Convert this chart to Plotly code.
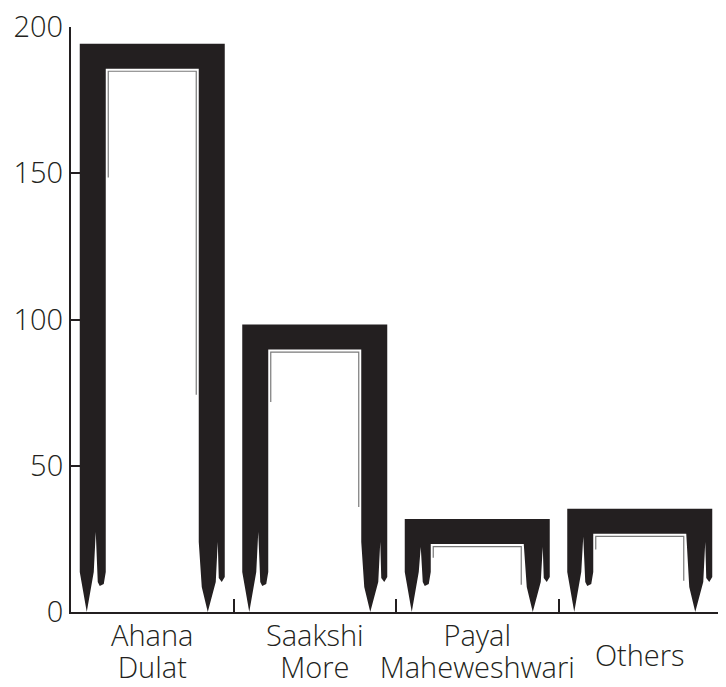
import plotly.graph_objects as go

# ---------------- data ----------------
categories = ["Ahana Dulat", "Saakshi More", "Payal Maheweshwari", "Others"]
label_line1 = ["Ahana", "Saakshi", "Payal"]
label_line2 = ["Dulat", "More", "Maheweshwari"]
single_labels = ["Others"]
values = [190, 94, 27.5, 31]
y_ticks = [0, 50, 100, 150, 200]

# ---------------- style ----------------
INK = "#231f20"
FONT = "Open Sans"
PAGE_OFFSET = 8          # default body margin of the html page
FIG_W, FIG_H = 726 - PAGE_OFFSET, 687 - PAGE_OFFSET
M_L, M_R, M_T, M_B = 71 - PAGE_OFFSET, 5, 27 - PAGE_OFFSET, 74.5
X_RANGE = [-0.5, len(categories) - 0.5]
Y_RANGE = [0, 200]
PX_X = (FIG_W - M_L - M_R) / (X_RANGE[1] - X_RANGE[0])
PX_Y = (FIG_H - M_T - M_B) / (Y_RANGE[1] - Y_RANGE[0])

BAR_W = 145   # outer bar width (px)
SW = 26       # leg stroke width (px)
TW = 25       # top stroke thickness (px)


def to_data(i, off, h):
    return i + (off - BAR_W / 2) / PX_X, h / PX_Y


def bar_outline(i, v):
    top = v * PX_Y + TW / 2
    inner = top - TW
    lim = inner - 3
    c = lambda h: min(h, lim)
    pts = [
        (7, 0), (0, c(40)), (0, top), (BAR_W, top),
        (BAR_W, c(35)), (BAR_W - 3, 30), (BAR_W - 6, c(34)), (BAR_W - 7, c(70)),
        (BAR_W - 9, c(30)), (BAR_W - 17, 0), (BAR_W - 23, c(25)), (BAR_W - SW, c(70)),
        (BAR_W - SW, inner), (SW, inner), (SW, c(40)), (SW - 2, 28),
        (SW - 6, 26), (SW - 8, c(30)), (SW - 10, c(80)), (SW - 12, c(40)), (7, 0),
    ]
    xs, ys = zip(*[to_data(i, a, b) for a, b in pts])
    return list(xs), list(ys)


def bar_highlight(i, v):
    top = v * PX_Y + TW / 2
    inner = top - TW
    pts = [(SW + 2.5, inner * 0.8), (SW + 2.5, inner - 2.5), (BAR_W - SW - 2.5, inner - 2.5),
           (BAR_W - SW - 2.5, inner * 0.4)]
    xs, ys = zip(*[to_data(i, a, b) for a, b in pts])
    return list(xs), list(ys)


fig = go.Figure()
for i, v in enumerate(values):
    xs, ys = bar_outline(i, v)
    fig.add_trace(go.Scatter(x=xs, y=ys, mode="lines", fill="toself", fillcolor=INK,
                             line=dict(width=0, color=INK), hoverinfo="skip",
                             showlegend=False))
    hx, hy = bar_highlight(i, v)
    fig.add_trace(go.Scatter(x=hx, y=hy, mode="lines", line=dict(width=1.2, color="#7a7a7a"),
                             hoverinfo="skip", showlegend=False))

# invisible anchors for label axes
for ax in ["x2", "x3", "x4"]:
    fig.add_trace(go.Scatter(x=list(range(len(categories))), y=values, xaxis=ax, mode="markers",
                             marker=dict(opacity=0), hoverinfo="skip", showlegend=False))

tickfont = dict(family=FONT, size=29, color=INK, weight=300)
label_axis = dict(overlaying="x", anchor="y", side="bottom", range=X_RANGE, showline=False,
                  showgrid=False, zeroline=False, ticks="", tickfont=tickfont, fixedrange=True,
                  automargin=False, ticklabeloverflow="allow")

fig.update_layout(
    width=FIG_W, height=FIG_H,
    margin=dict(l=M_L, r=M_R, t=M_T, b=M_B, autoexpand=False),
    paper_bgcolor="white", plot_bgcolor="white",
    font=dict(family=FONT, color=INK),
    xaxis=dict(range=X_RANGE, tickvals=[k + 0.5 for k in range(len(categories))],
               ticks="inside", ticklen=13, tickwidth=2, tickcolor=INK,
               showticklabels=False, showline=True, linecolor=INK, linewidth=2,
               showgrid=False, zeroline=False, fixedrange=True, automargin=False),
    xaxis2=dict(label_axis, tickvals=list(range(len(label_line1))), ticktext=label_line1,
                ticklabelstandoff=4),
    xaxis3=dict(label_axis, tickvals=list(range(len(label_line2))), ticktext=label_line2,
                ticklabelstandoff=36),
    xaxis4=dict(label_axis, tickvals=[len(categories) - 1], ticktext=single_labels,
                ticklabelstandoff=24),
    yaxis=dict(range=Y_RANGE, tickvals=y_ticks, ticks="inside", ticklen=17, tickwidth=2,
               tickcolor=INK, showline=True, linecolor=INK, linewidth=2, showgrid=False,
               zeroline=False, tickfont=tickfont, fixedrange=True, automargin=False,
               ticklabeloverflow="allow"),
)

fig.write_html("out.html")
